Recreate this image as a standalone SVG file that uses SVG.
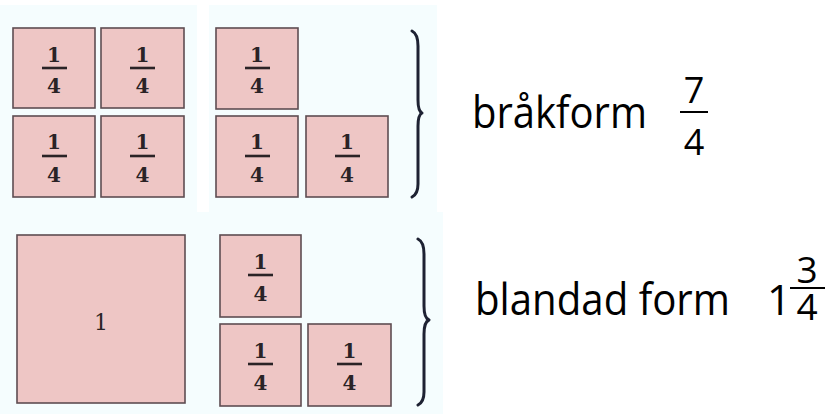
<svg xmlns="http://www.w3.org/2000/svg" width="829" height="414" viewBox="0 0 829 414">
<style>
.bg{fill:#f5fdfe}
.box{fill:#eec6c5;stroke:#5e4d52;stroke-width:1.6}
.d{font-family:"DejaVu Serif",serif;font-weight:bold;font-size:20px;fill:#2a2326;text-anchor:middle}
.bar{stroke:#2a2326;stroke-width:2.6}
.brace{fill:none;stroke:#1e2233;stroke-width:3;stroke-linecap:round;stroke-linejoin:round}
.t{font-family:"Open Sans","Liberation Sans",sans-serif;font-size:44px;fill:#000}
.n{font-family:"Open Sans","Liberation Sans",sans-serif;font-size:36px;fill:#000;text-anchor:middle}
.fl{stroke:#000;stroke-width:2}
</style>
<rect class="bg" x="0" y="5" width="197" height="210"/>
<rect class="bg" x="209" y="5" width="228" height="210"/>
<rect class="bg" x="0" y="212" width="443" height="202"/>

<g id="q1"><rect class="box" x="13" y="28" width="82" height="80"/><text class="d" x="54" y="62">1</text><line class="bar" x1="42" y1="68" x2="67" y2="68"/><text class="d" x="54" y="93">4</text></g>
<g id="q2"><rect class="box" x="101" y="28" width="83" height="80"/><text class="d" x="142.5" y="62">1</text><line class="bar" x1="130" y1="68" x2="155" y2="68"/><text class="d" x="142.5" y="93">4</text></g>
<g id="q3"><rect class="box" x="13" y="116" width="82" height="81"/><text class="d" x="54" y="149">1</text><line class="bar" x1="42" y1="156" x2="67" y2="156"/><text class="d" x="54" y="182">4</text></g>
<g id="q4"><rect class="box" x="101" y="116" width="83" height="81"/><text class="d" x="142.5" y="149">1</text><line class="bar" x1="130" y1="156" x2="155" y2="156"/><text class="d" x="142.5" y="182">4</text></g>
<g id="q5"><rect class="box" x="216" y="28" width="82" height="81"/><text class="d" x="257" y="62">1</text><line class="bar" x1="245" y1="68" x2="270" y2="68"/><text class="d" x="257" y="93">4</text></g>
<g id="q6"><rect class="box" x="216" y="116" width="82" height="81"/><text class="d" x="257" y="149">1</text><line class="bar" x1="245" y1="156" x2="270" y2="156"/><text class="d" x="257" y="182">4</text></g>
<g id="q7"><rect class="box" x="306" y="116" width="82" height="81"/><text class="d" x="347" y="149">1</text><line class="bar" x1="335" y1="156" x2="360" y2="156"/><text class="d" x="347" y="182">4</text></g>

<g id="whole"><rect class="box" x="17" y="235" width="168" height="168"/><text class="d" x="101" y="330" style="font-size:22px;font-weight:normal">1</text></g>
<g id="q8"><rect class="box" x="220" y="235" width="81" height="82"/><text class="d" x="260.5" y="269">1</text><line class="bar" x1="248" y1="275" x2="273" y2="275"/><text class="d" x="260.5" y="301">4</text></g>
<g id="q9"><rect class="box" x="220" y="324" width="81" height="82"/><text class="d" x="260.5" y="358">1</text><line class="bar" x1="248" y1="364" x2="273" y2="364"/><text class="d" x="260.5" y="390">4</text></g>
<g id="q10"><rect class="box" x="308" y="324" width="83" height="82"/><text class="d" x="349.5" y="358">1</text><line class="bar" x1="337" y1="364" x2="362" y2="364"/><text class="d" x="349.5" y="390">4</text></g>

<g id="connectors">
<path class="brace" d="M412 31 Q418 34 418 46 L418 100 Q418 111 422 113 Q418 115 418 126 L418 184 Q418 194 412 197"/>
<path class="brace" d="M418 239 Q424 242 424 254 L424 306 Q424 318 429 320 Q424 322 424 334 L424 392 Q424 402 418 405"/>
</g>

<g id="label1">
<text class="t" x="472" y="128" textLength="175" lengthAdjust="spacingAndGlyphs">bråkform</text>
<text class="n" x="694" y="103">7</text>
<line class="fl" x1="680" y1="112" x2="708" y2="112"/>
<text class="n" x="694" y="155">4</text>
</g>
<g id="label2">
<text class="t" x="475" y="315" textLength="255" lengthAdjust="spacingAndGlyphs">blandad form</text>
<text class="n" x="779" y="315" style="font-size:42px">1</text>
<text class="n" x="807" y="283" style="font-size:37px">3</text>
<line class="fl" x1="790" y1="288" x2="825" y2="288"/>
<text class="n" x="807" y="320" style="font-size:37px">4</text>
</g>
</svg>
